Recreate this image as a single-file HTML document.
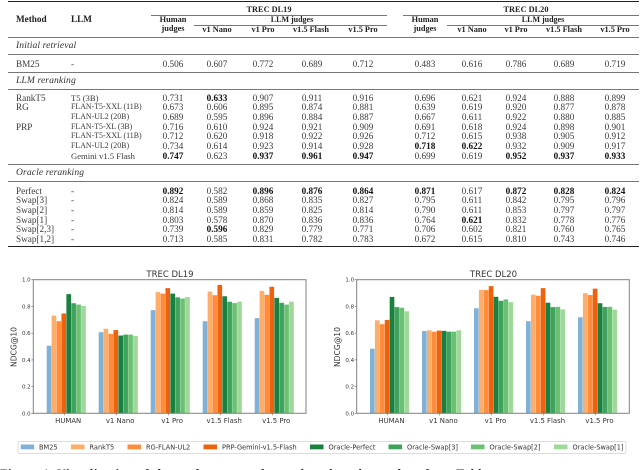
<!DOCTYPE html>
<html>
<head>
<meta charset="utf-8">
<title>LLM reranking results</title>
<style>
html,body{margin:0;padding:0;background:#fff}
#page{position:relative;width:640px;height:470px;overflow:hidden;background:#fff;filter:blur(.3px)}
.t{position:absolute;font-family:"Liberation Serif",serif;font-size:9.2px;line-height:10px;color:#333;white-space:nowrap}
.row{position:absolute;left:0;width:640px;height:10px;font-family:"Liberation Serif",serif;font-size:9.2px;line-height:10px;color:#3a3a3a}
.row span{position:absolute;top:0;white-space:nowrap}
.row span.m{left:16px}
.row span.l{left:71px}
.row span.f{font-size:7.9px}
.row span.g{font-size:8.65px}
.row span.n{width:40px;margin-left:-20px;text-align:center}
.n1{left:173px}.n2{left:217px}.n3{left:263px}.n4{left:312px}.n5{left:363px}
.n6{left:425px}.n7{left:472px}.n8{left:516px}.n9{left:564px}.n10{left:615px}
.row b{color:#111}
.h{position:absolute;background:#777;height:1.2px}
.c{transform:translateX(-50%)}
.b{font-weight:bold;color:#222}
.s{font-size:8.3px}
.i{font-style:italic;color:#333;font-size:9.6px;letter-spacing:.1px}
svg{position:absolute;left:0;top:0}
svg text{font-family:"DejaVu Sans",sans-serif;fill:#333}
#caption{position:absolute;left:0;top:466.5px;font-family:"Liberation Serif",serif;font-weight:bold;font-size:12px;letter-spacing:.76px;line-height:12px;color:#222;white-space:nowrap}
</style>
</head>
<body>
<div id="page">
<div>
<div class="h" style="left:8px;width:631px;top:0.5px;height:1.6px;background:#222"></div>
<div class="t c b s" style="left:269px;top:5px">TREC DL19</div>
<div class="t c b s" style="left:526px;top:5px">TREC DL20</div>
<div class="h" style="left:151px;width:236px;top:15px"></div>
<div class="h" style="left:403px;width:236px;top:15px"></div>
<div class="t b" style="left:16px;top:14px">Method</div>
<div class="t b" style="left:71px;top:14px">LLM</div>
<div class="t c b s" style="left:173px;top:15px">Human</div>
<div class="t c b s" style="left:173px;top:24px">judges</div>
<div class="t c b s" style="left:292px;top:15px;font-size:8px">LLM judges</div>
<div class="t c b s" style="left:425px;top:15px">Human</div>
<div class="t c b s" style="left:425px;top:24px">judges</div>
<div class="t c b s" style="left:543px;top:15px;font-size:8px">LLM judges</div>
<div class="h" style="left:194px;width:193px;top:25px"></div>
<div class="h" style="left:447px;width:192px;top:25px"></div>
<div class="t c b s" style="left:217px;top:25px">v1 Nano</div>
<div class="t c b s" style="left:263px;top:25px">v1 Pro</div>
<div class="t c b s" style="left:311px;top:25px">v1.5 Flash</div>
<div class="t c b s" style="left:363px;top:25px">v1.5 Pro</div>
<div class="t c b s" style="left:472px;top:25px">v1 Nano</div>
<div class="t c b s" style="left:516px;top:25px">v1 Pro</div>
<div class="t c b s" style="left:564px;top:25px">v1.5 Flash</div>
<div class="t c b s" style="left:615px;top:25px">v1.5 Pro</div>
<div class="h" style="left:8px;width:631px;top:37px"></div>
<div class="t i" style="left:16px;top:41px">Initial retrieval</div>
<div class="h" style="left:8px;width:631px;top:54px"></div>
<div class="row" style="top:59px"><span class="m">BM25</span><span class="l">-</span><span class="n n1">0.506</span><span class="n n2">0.607</span><span class="n n3">0.772</span><span class="n n4">0.689</span><span class="n n5">0.712</span><span class="n n6">0.483</span><span class="n n7">0.616</span><span class="n n8">0.786</span><span class="n n9">0.689</span><span class="n n10">0.719</span></div>
<div class="h" style="left:8px;width:631px;top:71.5px"></div>
<div class="t i" style="left:16px;top:76px">LLM reranking</div>
<div class="h" style="left:8px;width:631px;top:88.5px"></div>
<div class="row" style="top:92.5px"><span class="m">RankT5</span><span class="l f" style="font-size:8.6px">T5 (3B)</span><span class="n n1">0.731</span><span class="n n2"><b>0.633</b></span><span class="n n3">0.907</span><span class="n n4">0.911</span><span class="n n5">0.916</span><span class="n n6">0.696</span><span class="n n7">0.621</span><span class="n n8">0.924</span><span class="n n9">0.888</span><span class="n n10">0.899</span></div>
<div class="row" style="top:102px"><span class="m">RG</span><span class="l f">FLAN-T5-XXL (11B)</span><span class="n n1">0.673</span><span class="n n2">0.606</span><span class="n n3">0.895</span><span class="n n4">0.874</span><span class="n n5">0.881</span><span class="n n6">0.639</span><span class="n n7">0.619</span><span class="n n8">0.920</span><span class="n n9">0.877</span><span class="n n10">0.878</span></div>
<div class="row" style="top:112px"><span class="l f">FLAN-UL2 (20B)</span><span class="n n1">0.689</span><span class="n n2">0.595</span><span class="n n3">0.896</span><span class="n n4">0.884</span><span class="n n5">0.887</span><span class="n n6">0.667</span><span class="n n7">0.611</span><span class="n n8">0.922</span><span class="n n9">0.880</span><span class="n n10">0.885</span></div>
<div class="row" style="top:121.5px"><span class="m">PRP</span><span class="l f">FLAN-T5-XL (3B)</span><span class="n n1">0.716</span><span class="n n2">0.610</span><span class="n n3">0.924</span><span class="n n4">0.921</span><span class="n n5">0.909</span><span class="n n6">0.691</span><span class="n n7">0.618</span><span class="n n8">0.924</span><span class="n n9">0.898</span><span class="n n10">0.901</span></div>
<div class="row" style="top:131px"><span class="l f">FLAN-T5-XXL (11B)</span><span class="n n1">0.712</span><span class="n n2">0.620</span><span class="n n3">0.918</span><span class="n n4">0.922</span><span class="n n5">0.926</span><span class="n n6">0.712</span><span class="n n7">0.615</span><span class="n n8">0.938</span><span class="n n9">0.905</span><span class="n n10">0.912</span></div>
<div class="row" style="top:141px"><span class="l f">FLAN-UL2 (20B)</span><span class="n n1">0.734</span><span class="n n2">0.614</span><span class="n n3">0.923</span><span class="n n4">0.914</span><span class="n n5">0.928</span><span class="n n6"><b>0.718</b></span><span class="n n7"><b>0.622</b></span><span class="n n8">0.932</span><span class="n n9">0.909</span><span class="n n10">0.917</span></div>
<div class="row" style="top:150.5px"><span class="l g">Gemini v1.5 Flash</span><span class="n n1"><b>0.747</b></span><span class="n n2">0.623</span><span class="n n3"><b>0.937</b></span><span class="n n4"><b>0.961</b></span><span class="n n5"><b>0.947</b></span><span class="n n6">0.699</span><span class="n n7">0.619</span><span class="n n8"><b>0.952</b></span><span class="n n9"><b>0.937</b></span><span class="n n10"><b>0.933</b></span></div>
<div class="h" style="left:8px;width:631px;top:163.5px"></div>
<div class="t i" style="left:16px;top:168px">Oracle reranking</div>
<div class="h" style="left:8px;width:631px;top:181px"></div>
<div class="row" style="top:185.5px"><span class="m">Perfect</span><span class="l">-</span><span class="n n1"><b>0.892</b></span><span class="n n2">0.582</span><span class="n n3"><b>0.896</b></span><span class="n n4"><b>0.876</b></span><span class="n n5"><b>0.864</b></span><span class="n n6"><b>0.871</b></span><span class="n n7">0.617</span><span class="n n8"><b>0.872</b></span><span class="n n9"><b>0.828</b></span><span class="n n10"><b>0.824</b></span></div>
<div class="row" style="top:195px"><span class="m">Swap[3]</span><span class="l">-</span><span class="n n1">0.824</span><span class="n n2">0.589</span><span class="n n3">0.868</span><span class="n n4">0.835</span><span class="n n5">0.827</span><span class="n n6">0.795</span><span class="n n7">0.611</span><span class="n n8">0.842</span><span class="n n9">0.795</span><span class="n n10">0.796</span></div>
<div class="row" style="top:204.5px"><span class="m">Swap[2]</span><span class="l">-</span><span class="n n1">0.814</span><span class="n n2">0.589</span><span class="n n3">0.859</span><span class="n n4">0.825</span><span class="n n5">0.814</span><span class="n n6">0.790</span><span class="n n7">0.611</span><span class="n n8">0.853</span><span class="n n9">0.797</span><span class="n n10">0.797</span></div>
<div class="row" style="top:214.5px"><span class="m">Swap[1]</span><span class="l">-</span><span class="n n1">0.803</span><span class="n n2">0.578</span><span class="n n3">0.870</span><span class="n n4">0.836</span><span class="n n5">0.836</span><span class="n n6">0.764</span><span class="n n7"><b>0.621</b></span><span class="n n8">0.832</span><span class="n n9">0.778</span><span class="n n10">0.776</span></div>
<div class="row" style="top:224px"><span class="m">Swap[2,3]</span><span class="l">-</span><span class="n n1">0.739</span><span class="n n2"><b>0.596</b></span><span class="n n3">0.829</span><span class="n n4">0.779</span><span class="n n5">0.771</span><span class="n n6">0.706</span><span class="n n7">0.602</span><span class="n n8">0.821</span><span class="n n9">0.760</span><span class="n n10">0.765</span></div>
<div class="row" style="top:233.5px"><span class="m">Swap[1,2]</span><span class="l">-</span><span class="n n1">0.713</span><span class="n n2">0.585</span><span class="n n3">0.831</span><span class="n n4">0.782</span><span class="n n5">0.783</span><span class="n n6">0.672</span><span class="n n7">0.615</span><span class="n n8">0.810</span><span class="n n9">0.743</span><span class="n n10">0.746</span></div>
<div class="h" style="left:8px;width:631px;top:245.5px;height:1.6px;background:#222"></div>
</div>

<svg id="charts" width="640" height="470" viewBox="0 0 640 470">
  <g id="chart-dl19"></g>
  <g id="chart-dl20"></g>
  <g id="legend">
    <rect x="18" y="441.5" width="608" height="12" fill="#fff" stroke="#ddd" stroke-width="1" rx="1.5"/>
    <rect x="20.7" y="444.5" width="13.5" height="4.8" fill="#82b1d8"/>
    <text x="39" y="449.3" font-size="6.6">BM25</text>
    <rect x="71" y="444.5" width="13.5" height="4.8" fill="#fdae6b"/>
    <text x="89.5" y="449.3" font-size="6.6">RankT5</text>
    <rect x="127.5" y="444.5" width="13.5" height="4.8" fill="#fd8d3c"/>
    <text x="146" y="449.3" font-size="6.6">RG-FLAN-UL2</text>
    <rect x="203.5" y="444.5" width="13.5" height="4.8" fill="#ee620f"/>
    <text x="222" y="449.3" font-size="6.6">PRP-Gemini-v1.5-Flash</text>
    <rect x="310" y="444.5" width="13.5" height="4.8" fill="#1a8040"/>
    <text x="328.5" y="449.3" font-size="6.6">Oracle-Perfect</text>
    <rect x="388.5" y="444.5" width="13.5" height="4.8" fill="#3fa35d"/>
    <text x="407" y="449.3" font-size="6.6">Oracle-Swap[3]</text>
    <rect x="471" y="444.5" width="13.5" height="4.8" fill="#6cc074"/>
    <text x="489.5" y="449.3" font-size="6.6">Oracle-Swap[2]</text>
    <rect x="554" y="444.5" width="13.5" height="4.8" fill="#9fd99a"/>
    <text x="572.5" y="449.3" font-size="6.6">Oracle-Swap[1]</text>
  </g>
</svg>

<div id="caption">Figure 4: Visualization of the performance of rerankers based on values from Table</div>
</div>

<script>
const categories = ['HUMAN', 'v1 Nano', 'v1 Pro', 'v1.5 Flash', 'v1.5 Pro'];
const seriesNames = ['BM25', 'RankT5', 'RG-FLAN-UL2', 'PRP-Gemini-v1.5-Flash', 'Oracle-Perfect', 'Oracle-Swap[3]', 'Oracle-Swap[2]', 'Oracle-Swap[1]'];
const yTicks = [0.0, 0.2, 0.4, 0.6, 0.8, 1.0];
const yTickLabels = ['0.0', '0.2', '0.4', '0.6', '0.8', '1.0'];
const seriesColors = ['#82b1d8', '#fdae6b', '#fd8d3c', '#ee620f', '#1a8040', '#3fa35d', '#6cc074', '#9fd99a'];

const dl19Human = [0.506, 0.731, 0.689, 0.747, 0.892, 0.824, 0.814, 0.803];
const dl19Nano = [0.607, 0.633, 0.595, 0.623, 0.582, 0.589, 0.589, 0.578];
const dl19Pro = [0.772, 0.907, 0.896, 0.937, 0.896, 0.868, 0.859, 0.870];
const dl19Flash15 = [0.689, 0.911, 0.884, 0.961, 0.876, 0.835, 0.825, 0.836];
const dl19Pro15 = [0.712, 0.916, 0.887, 0.947, 0.864, 0.827, 0.814, 0.836];

const dl20Human = [0.483, 0.696, 0.667, 0.699, 0.871, 0.795, 0.790, 0.764];
const dl20Nano = [0.616, 0.621, 0.611, 0.619, 0.617, 0.611, 0.611, 0.621];
const dl20Pro = [0.786, 0.924, 0.922, 0.952, 0.872, 0.842, 0.853, 0.832];
const dl20Flash15 = [0.689, 0.888, 0.880, 0.937, 0.828, 0.795, 0.797, 0.778];
const dl20Pro15 = [0.719, 0.899, 0.885, 0.933, 0.824, 0.796, 0.797, 0.776];

const NS = 'http://www.w3.org/2000/svg';
function make(parent, tag, attrs, text) {
  const node = document.createElementNS(NS, tag);
  for (const k in attrs) node.setAttribute(k, attrs[k]);
  if (text !== undefined) node.textContent = text;
  parent.appendChild(node);
  return node;
}

function drawChart(groupId, title, groups, plotLeft, plotRight, firstBar, titleX, yTitleX) {
  const root = document.getElementById(groupId);
  const plotTop = 279.7, plotBottom = 413.3;
  const groupStep = 52, barWidth = 4.92;
  const yScale = v => plotBottom - v * (plotBottom - plotTop);
  const xScale = (g, s) => firstBar + g * groupStep + s * barWidth;

  const titleEl = make(root, 'text', {x: titleX, y: 276.8, 'font-size': 8.5, 'text-anchor': 'middle'}, title);
  
  

  groups.forEach((vals, g) => {
    vals.forEach((v, s) => {
      const top = yScale(v);
      const bar = make(root, 'rect', {
        x: xScale(g, s), y: top, width: barWidth - 0.25,
        height: plotBottom - top, fill: seriesColors[s]
      });
      
      
      bar.setAttribute('data-series', seriesNames[s]);
      bar.setAttribute('data-category', categories[g]);
    });
  });

  const frame = make(root, 'rect', {
    x: plotLeft, y: plotTop, width: plotRight - plotLeft, height: plotBottom - plotTop,
    fill: 'none', stroke: '#808080', 'stroke-width': 1
  });
  
  

  yTicks.forEach((t, i) => {
    const y = yScale(t);
    const tick = make(root, 'line', {x1: plotLeft - 2, x2: plotLeft, y1: y, y2: y, stroke: '#666', 'stroke-width': 0.6});
    
    
    const label = make(root, 'text', {x: plotLeft - 2.6, y: y + 2, 'font-size': 5.5, 'text-anchor': 'end'}, yTickLabels[i]);
    
    
  });

  categories.forEach((c, g) => {
    const x = xScale(g, 4);
    const tick = make(root, 'line', {x1: x - 2, x2: x - 2, y1: plotBottom, y2: plotBottom + 2, stroke: '#666', 'stroke-width': 0.6});
    
    
    const label = make(root, 'text', {x: x + 1.8, y: 423.2, 'font-size': 6.9, 'text-anchor': 'middle'}, c);
    
    
  });

  const yTitle = make(root, 'text', {
    x: yTitleX, y: 347, 'font-size': 7.6, 'text-anchor': 'middle',
    transform: 'rotate(-90 ' + yTitleX + ' 347)'
  }, 'NDCG@10');
  
  
}

drawChart('chart-dl19', 'TREC DL19', [dl19Human, dl19Nano, dl19Pro, dl19Flash15, dl19Pro15], 33.3, 306, 46.7, 170, 16.5);
drawChart('chart-dl20', 'TREC DL20', [dl20Human, dl20Nano, dl20Pro, dl20Flash15, dl20Pro15], 356.7, 629.3, 370, 493.5, 340);
</script>
</body>
</html>
